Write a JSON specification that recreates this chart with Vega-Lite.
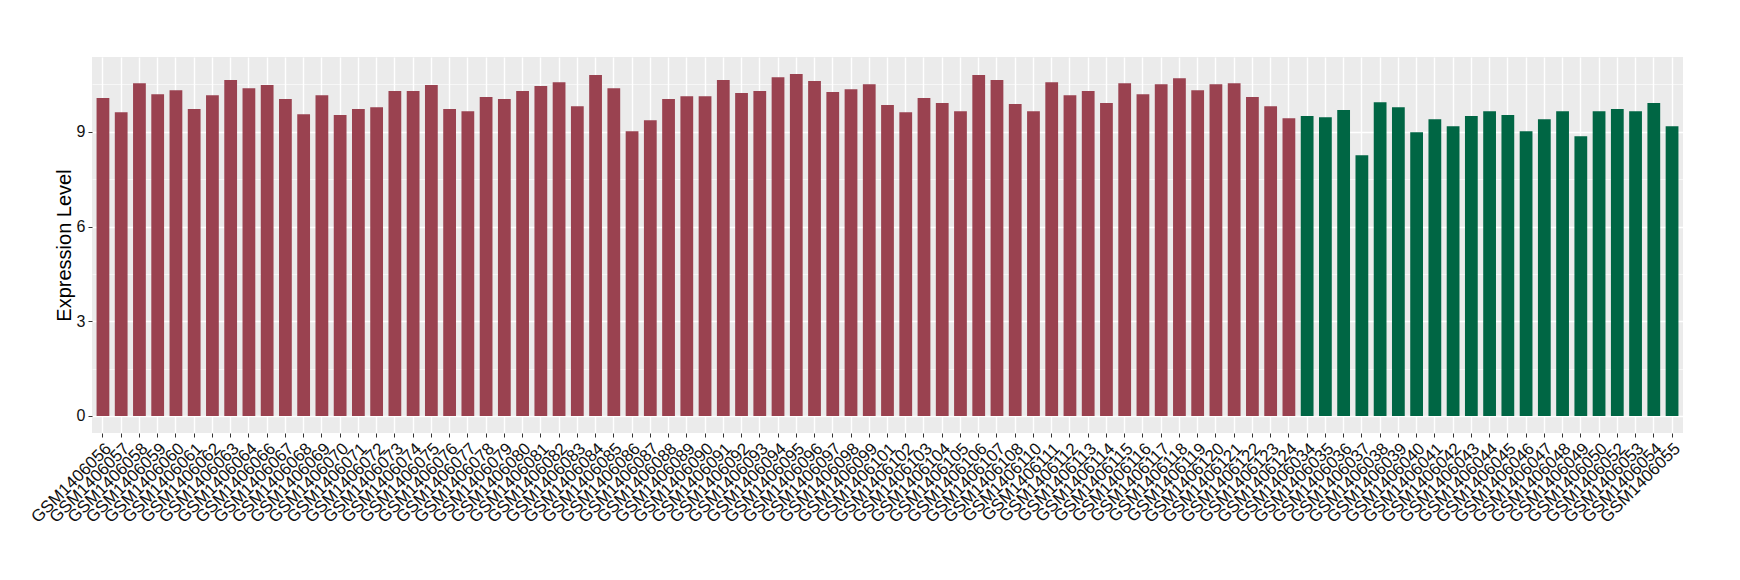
{
  "$schema": "https://vega.github.io/schema/vega-lite/v6.json",
  "width": 1591,
  "height": 376,
  "autosize": {"type": "none"},
  "padding": {"left": 92, "top": 57, "right": 57, "bottom": 147},
  "background": "white",
  "config": {"view": {"fill": "#EBEBEB", "stroke": null}, "font": "Liberation Sans"},
  "data": {"values": [
    {"sample": "GSM1406056", "value": 10.07, "group": "case"},
    {"sample": "GSM1406057", "value": 9.62, "group": "case"},
    {"sample": "GSM1406058", "value": 10.54, "group": "case"},
    {"sample": "GSM1406059", "value": 10.19, "group": "case"},
    {"sample": "GSM1406060", "value": 10.32, "group": "case"},
    {"sample": "GSM1406061", "value": 9.72, "group": "case"},
    {"sample": "GSM1406062", "value": 10.16, "group": "case"},
    {"sample": "GSM1406063", "value": 10.64, "group": "case"},
    {"sample": "GSM1406064", "value": 10.38, "group": "case"},
    {"sample": "GSM1406066", "value": 10.48, "group": "case"},
    {"sample": "GSM1406067", "value": 10.04, "group": "case"},
    {"sample": "GSM1406068", "value": 9.56, "group": "case"},
    {"sample": "GSM1406069", "value": 10.16, "group": "case"},
    {"sample": "GSM1406070", "value": 9.53, "group": "case"},
    {"sample": "GSM1406071", "value": 9.72, "group": "case"},
    {"sample": "GSM1406072", "value": 9.78, "group": "case"},
    {"sample": "GSM1406073", "value": 10.29, "group": "case"},
    {"sample": "GSM1406074", "value": 10.29, "group": "case"},
    {"sample": "GSM1406075", "value": 10.48, "group": "case"},
    {"sample": "GSM1406076", "value": 9.72, "group": "case"},
    {"sample": "GSM1406077", "value": 9.65, "group": "case"},
    {"sample": "GSM1406078", "value": 10.10, "group": "case"},
    {"sample": "GSM1406079", "value": 10.04, "group": "case"},
    {"sample": "GSM1406080", "value": 10.29, "group": "case"},
    {"sample": "GSM1406081", "value": 10.45, "group": "case"},
    {"sample": "GSM1406082", "value": 10.57, "group": "case"},
    {"sample": "GSM1406083", "value": 9.81, "group": "case"},
    {"sample": "GSM1406084", "value": 10.80, "group": "case"},
    {"sample": "GSM1406085", "value": 10.38, "group": "case"},
    {"sample": "GSM1406086", "value": 9.02, "group": "case"},
    {"sample": "GSM1406087", "value": 9.37, "group": "case"},
    {"sample": "GSM1406088", "value": 10.04, "group": "case"},
    {"sample": "GSM1406089", "value": 10.13, "group": "case"},
    {"sample": "GSM1406090", "value": 10.13, "group": "case"},
    {"sample": "GSM1406091", "value": 10.64, "group": "case"},
    {"sample": "GSM1406092", "value": 10.23, "group": "case"},
    {"sample": "GSM1406093", "value": 10.29, "group": "case"},
    {"sample": "GSM1406094", "value": 10.73, "group": "case"},
    {"sample": "GSM1406095", "value": 10.83, "group": "case"},
    {"sample": "GSM1406096", "value": 10.61, "group": "case"},
    {"sample": "GSM1406097", "value": 10.26, "group": "case"},
    {"sample": "GSM1406098", "value": 10.35, "group": "case"},
    {"sample": "GSM1406099", "value": 10.51, "group": "case"},
    {"sample": "GSM1406101", "value": 9.85, "group": "case"},
    {"sample": "GSM1406102", "value": 9.62, "group": "case"},
    {"sample": "GSM1406103", "value": 10.07, "group": "case"},
    {"sample": "GSM1406104", "value": 9.91, "group": "case"},
    {"sample": "GSM1406105", "value": 9.65, "group": "case"},
    {"sample": "GSM1406106", "value": 10.80, "group": "case"},
    {"sample": "GSM1406107", "value": 10.64, "group": "case"},
    {"sample": "GSM1406108", "value": 9.88, "group": "case"},
    {"sample": "GSM1406110", "value": 9.65, "group": "case"},
    {"sample": "GSM1406111", "value": 10.57, "group": "case"},
    {"sample": "GSM1406112", "value": 10.16, "group": "case"},
    {"sample": "GSM1406113", "value": 10.29, "group": "case"},
    {"sample": "GSM1406114", "value": 9.91, "group": "case"},
    {"sample": "GSM1406115", "value": 10.54, "group": "case"},
    {"sample": "GSM1406116", "value": 10.19, "group": "case"},
    {"sample": "GSM1406117", "value": 10.51, "group": "case"},
    {"sample": "GSM1406118", "value": 10.70, "group": "case"},
    {"sample": "GSM1406119", "value": 10.32, "group": "case"},
    {"sample": "GSM1406120", "value": 10.51, "group": "case"},
    {"sample": "GSM1406121", "value": 10.54, "group": "case"},
    {"sample": "GSM1406122", "value": 10.10, "group": "case"},
    {"sample": "GSM1406123", "value": 9.81, "group": "case"},
    {"sample": "GSM1406124", "value": 9.43, "group": "case"},
    {"sample": "GSM1406034", "value": 9.50, "group": "control"},
    {"sample": "GSM1406035", "value": 9.46, "group": "control"},
    {"sample": "GSM1406036", "value": 9.69, "group": "control"},
    {"sample": "GSM1406037", "value": 8.26, "group": "control"},
    {"sample": "GSM1406038", "value": 9.94, "group": "control"},
    {"sample": "GSM1406039", "value": 9.78, "group": "control"},
    {"sample": "GSM1406040", "value": 8.99, "group": "control"},
    {"sample": "GSM1406041", "value": 9.40, "group": "control"},
    {"sample": "GSM1406042", "value": 9.18, "group": "control"},
    {"sample": "GSM1406043", "value": 9.50, "group": "control"},
    {"sample": "GSM1406044", "value": 9.65, "group": "control"},
    {"sample": "GSM1406045", "value": 9.53, "group": "control"},
    {"sample": "GSM1406046", "value": 9.02, "group": "control"},
    {"sample": "GSM1406047", "value": 9.40, "group": "control"},
    {"sample": "GSM1406048", "value": 9.65, "group": "control"},
    {"sample": "GSM1406049", "value": 8.86, "group": "control"},
    {"sample": "GSM1406050", "value": 9.65, "group": "control"},
    {"sample": "GSM1406052", "value": 9.72, "group": "control"},
    {"sample": "GSM1406053", "value": 9.65, "group": "control"},
    {"sample": "GSM1406054", "value": 9.91, "group": "control"},
    {"sample": "GSM1406055", "value": 9.18, "group": "control"}
  ]},
  "encoding": {
    "x": {
      "field": "sample", "type": "nominal", "sort": null,
      "scale": {"paddingInner": 0.3, "paddingOuter": 0.25},
      "axis": {
        "title": null, "domain": false, "labelAngle": -45, "labelAlign": "right", "labelBaseline": "top",
        "labelFontSize": 17, "labelColor": "#111111", "labelPadding": 3,
        "tickColor": "#333333", "tickSize": 4, "bandPosition": 0.5,
        "grid": true, "gridColor": "#FFFFFF", "gridWidth": 1.4, "labelOverlap": false
      }
    }
  },
  "layer": [
    {
      "mark": {"type": "bar", "opacity": 0},
      "encoding": {
        "y": {
          "field": "value", "type": "quantitative",
          "scale": {"domain": [-0.54, 11.37], "nice": false, "zero": false},
          "axis": {"values": [1.5, 4.5, 7.5, 10.5], "grid": true, "gridColor": "#FFFFFF", "gridWidth": 0.6,
                   "labels": false, "ticks": false, "domain": false, "title": null, "orient": "left"}
        }
      }
    },
    {
      "mark": {"type": "bar"},
      "encoding": {
        "y": {
          "field": "value", "type": "quantitative",
          "scale": {"domain": [-0.54, 11.37], "nice": false, "zero": false},
          "axis": {
            "values": [0, 3, 6, 9], "orient": "left", "title": "Expression Level", "titleFontSize": 20,
            "titleFontWeight": "normal", "titleColor": "#000000", "titlePadding": 2,
            "labelFontSize": 16, "labelColor": "#111111", "labelPadding": 3,
            "tickColor": "#333333", "tickSize": 4, "domain": false,
            "grid": true, "gridColor": "#FFFFFF", "gridWidth": 1.4
          }
        },
        "color": {
          "field": "group", "type": "nominal",
          "scale": {"domain": ["case", "control"], "range": ["#9A4250", "#006644"]},
          "legend": null
        }
      }
    }
  ],
  "resolve": {"axis": {"y": "independent"}}
}
